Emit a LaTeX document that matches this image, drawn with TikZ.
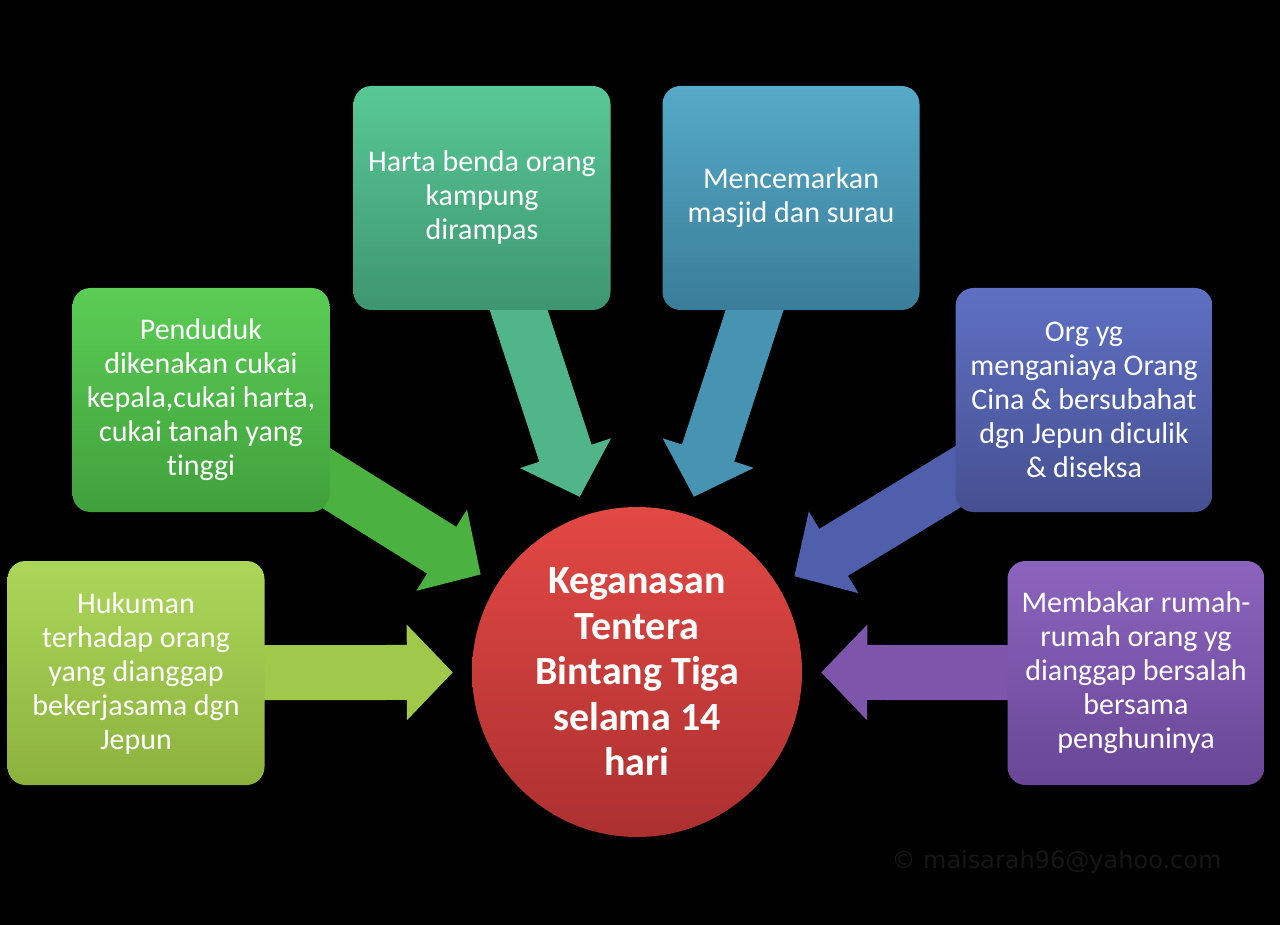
\documentclass[tikz,border=0pt]{standalone}
\usepackage{fontspec}
\setmainfont{Carlito}[Ligatures=NoCommon]
\newfontfamily\markfont{DejaVu Sans}
\usetikzlibrary{arrows.meta,backgrounds}

\definecolor{limeTop}{RGB}{172,214,90}
\definecolor{limeBot}{RGB}{140,178,62}
\definecolor{limeArrow}{RGB}{160,200,75}
\definecolor{leafTop}{RGB}{90,205,85}
\definecolor{leafBot}{RGB}{65,160,60}
\definecolor{leafArrow}{RGB}{75,178,65}
\definecolor{jadeTop}{RGB}{88,200,150}
\definecolor{jadeBot}{RGB}{62,150,112}
\definecolor{jadeArrow}{RGB}{80,182,138}
\definecolor{seaTop}{RGB}{85,170,200}
\definecolor{seaBot}{RGB}{58,125,152}
\definecolor{seaArrow}{RGB}{70,148,178}
\definecolor{indigoTop}{RGB}{95,112,195}
\definecolor{indigoBot}{RGB}{70,80,145}
\definecolor{indigoArrow}{RGB}{80,95,172}
\definecolor{violetTop}{RGB}{140,100,190}
\definecolor{violetBot}{RGB}{105,70,150}
\definecolor{violetArrow}{RGB}{125,85,170}
\definecolor{redTop}{RGB}{226,72,68}
\definecolor{redBot}{RGB}{172,48,48}
\definecolor{markgray}{RGB}{22,22,22}

\begin{document}
\begin{tikzpicture}[
      x=1pt, y=-1pt,
      box/.style={rounded corners=18pt, minimum width=257pt, minimum height=224pt,
        inner sep=0pt, align=center, text=white,
        font=\fontsize{30}{34}\selectfont, top color=#1Top, bottom color=#1Bot},
      hub/.style={circle, minimum size=330pt, inner sep=0pt, align=center, text=white,
        font=\bfseries\fontsize{40}{45.5}\selectfont, top color=redTop, bottom color=redBot},
      link/.style={line width=55pt, draw=#1, -{Triangle[length=46pt,width=93pt]},
        shorten >=19pt},
  ]
    \useasboundingbox (0,0) rectangle (1280,925);

    \node[box=lime] (hukuman) at (136,673)
      {Hukuman\\terhadap orang\\yang dianggap\\bekerjasama dgn\\Jepun};
    \node[box=leaf] (cukai) at (201,400)
      {Penduduk\\dikenakan cukai\\kepala,cukai harta,\\cukai tanah yang\\tinggi};
    \node[box=jade] (harta) at (482,198)
      {Harta benda orang\\kampung\\dirampas};
    \node[box=sea] (masjid) at (791,198)
      {Mencemarkan\\masjid dan surau};
    \node[box=indigo] (culik) at (1084,400)
      {Org yg\\menganiaya Orang\\Cina \& bersubahat\\dgn Jepun diculik\\\& diseksa};
    \node[box=violet] (bakar) at (1136,673)
      {Membakar rumah-\\rumah orang yg\\dianggap bersalah\\bersama\\penghuninya};

    \node[hub] (keganasan) at (637,672)
      {Keganasan\\Tentera\\Bintang Tiga\\selama 14\\hari};

    \node[anchor=west, text=markgray, font=\markfont\fontsize{24}{28}\selectfont]
      (tanda) at (888,862) {© maisarah96@yahoo.com};

    \begin{pgfonlayer}{background}
      \fill[black] (0,0) rectangle (1280,925);
      \draw[link=limeArrow] (hukuman.center) -- (keganasan);
      \draw[link=leafArrow] (cukai.center) -- (keganasan);
      \draw[link=jadeArrow] (harta.center) -- (keganasan);
      \draw[link=seaArrow] (masjid.center) -- (keganasan);
      \draw[link=indigoArrow] (culik.center) -- (keganasan);
      \draw[link=violetArrow] (bakar.center) -- (keganasan);
    \end{pgfonlayer}
  \end{tikzpicture}
\end{document}
